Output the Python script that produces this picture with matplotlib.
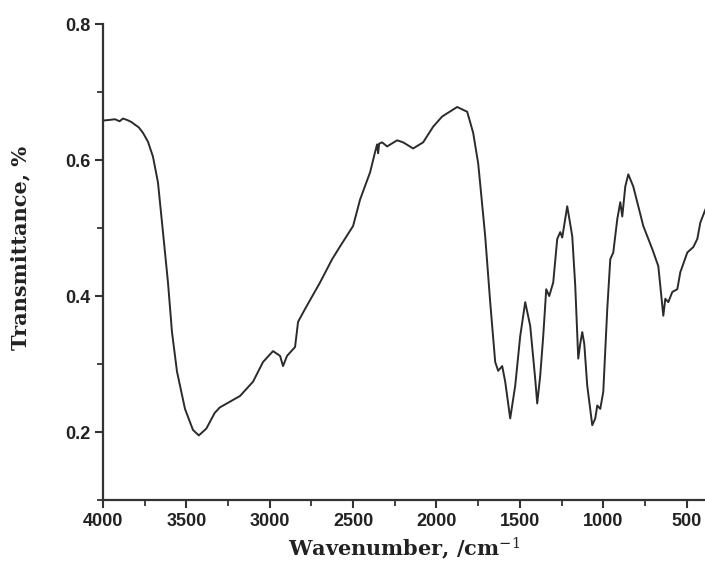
import matplotlib
matplotlib.use("Agg")
import matplotlib.pyplot as plt
from matplotlib.ticker import MultipleLocator

# wavenumber (cm^-1) and transmittance
wavenumber = [4000, 3960, 3928, 3900, 3880, 3856, 3830, 3808, 3785, 3760, 3730, 3700,
              3670, 3640, 3610, 3586, 3556, 3508, 3460, 3425, 3380, 3330, 3300, 3178,
              3100, 3040, 2980, 2938, 2920, 2896, 2848, 2830, 2788, 2698, 2626, 2578,
              2500, 2458, 2398, 2368, 2356, 2350, 2344, 2326, 2296, 2236, 2200, 2140,
              2080, 2020, 1966, 1876, 1816, 1780, 1750, 1738, 1708, 1678, 1648, 1630,
              1606, 1588, 1558, 1528, 1498, 1468, 1438, 1408, 1396, 1378, 1360, 1342,
              1324, 1300, 1276, 1258, 1246, 1216, 1186, 1168, 1150, 1138, 1126, 1114,
              1096, 1066, 1048, 1036, 1018, 1000, 976, 958, 940, 916, 898, 886, 868,
              850, 820, 760, 706, 670, 658, 640, 628, 610, 586, 556, 538, 496, 460,
              436, 418, 388]
transmittance = [0.658, 0.659, 0.660, 0.657, 0.661, 0.659, 0.656, 0.652, 0.648, 0.640, 0.627, 0.605,
                 0.567, 0.494, 0.420, 0.347, 0.289, 0.234, 0.203, 0.195, 0.205, 0.228, 0.236, 0.253,
                 0.274, 0.303, 0.319, 0.312, 0.297, 0.312, 0.325, 0.362, 0.381, 0.420, 0.454, 0.473,
                 0.503, 0.542, 0.582, 0.612, 0.623, 0.610, 0.624, 0.626, 0.620, 0.629, 0.626, 0.617,
                 0.626, 0.649, 0.664, 0.678, 0.671, 0.640, 0.595, 0.565, 0.488, 0.391, 0.303, 0.290,
                 0.297, 0.274, 0.220, 0.268, 0.341, 0.391, 0.356, 0.278, 0.242, 0.283, 0.341, 0.410,
                 0.400, 0.420, 0.484, 0.494, 0.486, 0.532, 0.488, 0.415, 0.308, 0.330, 0.347, 0.330,
                 0.268, 0.210, 0.220, 0.239, 0.234, 0.259, 0.381, 0.454, 0.464, 0.513, 0.538, 0.517, 0.561,
                 0.579, 0.561, 0.503, 0.469, 0.444, 0.415, 0.371, 0.396, 0.391, 0.406, 0.410, 0.435, 0.464, 0.472,
                 0.484, 0.508, 0.527]

x_ticks = [4000, 3500, 3000, 2500, 2000, 1500, 1000, 500]
y_ticks = [0.2, 0.4, 0.6, 0.8]

plt.rcParams["mathtext.fontset"] = "dejavuserif"

fig = plt.figure(figsize=(7.05, 5.68), dpi=100)
ax = fig.add_axes([0.146, 0.1197, 0.854, 0.838])

ax.plot(wavenumber, transmittance, color="#2b2b2b", lw=1.4)

ax.set_xlim(4000, 390)
ax.set_ylim(0.1, 0.8)
ax.set_xticks(x_ticks)
ax.set_yticks(y_ticks)
ax.xaxis.set_minor_locator(MultipleLocator(250))
ax.yaxis.set_minor_locator(MultipleLocator(0.1))

for s in ["top", "right"]:
    ax.spines[s].set_visible(False)
for s in ["left", "bottom"]:
    ax.spines[s].set_linewidth(1.6)
    ax.spines[s].set_color("#333333")

ax.tick_params(which="major", direction="out", length=6, width=1.5, color="#333333", pad=3)
ax.tick_params(which="minor", direction="out", length=4, width=1.3, color="#333333")
for lab in ax.get_xticklabels() + ax.get_yticklabels():
    lab.set_fontfamily("Liberation Sans")
    lab.set_fontweight("bold")
    lab.set_fontsize(13)
    lab.set_color("#222222")

ax.set_xlabel("Wavenumber, /cm$^{-1}$", family="DejaVu Serif", fontweight="bold",
              fontsize=15, color="#222222", labelpad=4)
ax.set_ylabel("Transmittance, %", family="DejaVu Serif", fontweight="bold",
              fontsize=15, color="#222222")
ax.yaxis.set_label_coords(-0.12, 0.53)

fig.savefig("out.png", dpi=100)
